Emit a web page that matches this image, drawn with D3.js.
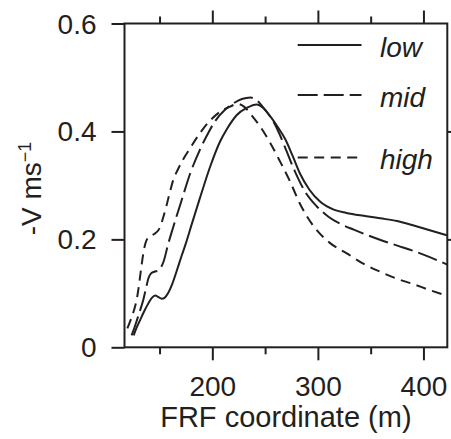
<!DOCTYPE html>
<html>
<head><meta charset="utf-8">
<title>Velocity profiles</title>
<style>
body { margin:0; background:#fff; }
svg text { font-family: "Liberation Sans", Arial, sans-serif; fill:#231f20; }
.axis path.domain { display:none; }
.axis line { stroke:#231f20; stroke-width:2; }
</style>
</head>
<body>
<svg width="451" height="439"></svg>
<script src="https://d3js.org/d3.v7.min.js"></script>
<script>
// [FRF coordinate (m), -V (m/s)]
var lowData = [[125.5,0.022],[128,0.035],[131.5,0.05],[135,0.065],[139,0.08],[142.5,0.091],[146,0.096],
  [149,0.093],[152,0.09],[155,0.092],[158,0.1],[162,0.117],[166,0.14],[171,0.17],[175,0.193],[180,0.225],
  [188,0.275],[198,0.335],[207,0.38],[214,0.405],[223,0.43],[233,0.444],[242,0.45],[248,0.444],[256,0.425],
  [262,0.408],[269,0.386],[276,0.355],[283,0.322],[292,0.292],[302,0.27],[315,0.255],[327,0.249],[346,0.243],
  [359,0.239],[375,0.234],[390,0.226],[406,0.217],[423,0.207]];
var midData = [[123.5,0.022],[126,0.035],[128.5,0.05],[131.5,0.068],[134.5,0.087],[137,0.108],[139.5,0.128],
  [142,0.137],[145,0.14],[148.5,0.142],[151,0.147],[154,0.16],[158,0.19],[163,0.223],[171,0.273],[179,0.322],
  [188,0.365],[195,0.393],[203,0.42],[212,0.44],[220,0.452],[228,0.46],[236,0.463],[243,0.456],[250,0.44],
  [257,0.421],[263,0.398],[269,0.37],[278,0.327],[288,0.288],[299,0.261],[310,0.242],[322,0.228],[334,0.218],
  [348,0.207],[362,0.197],[376,0.188],[390,0.179],[406,0.167],[423,0.153]];
var highData = [[119.5,0.035],[121.5,0.045],[123.6,0.056],[126,0.07],[128.3,0.088],[130,0.108],[131.5,0.13],
  [133,0.152],[134.6,0.174],[136.5,0.192],[139,0.203],[142,0.207],[145,0.21],[148.5,0.216],[151,0.225],
  [153.5,0.241],[156.5,0.262],[160,0.289],[163,0.31],[167.5,0.33],[172,0.347],[179,0.369],[188,0.396],
  [197.8,0.42],[207,0.436],[216.8,0.446],[224,0.451],[230,0.446],[238,0.428],[245,0.41],[254.5,0.38],
  [264,0.345],[273.7,0.307],[283,0.266],[295.7,0.225],[311.6,0.193],[327.4,0.174],[343,0.155],[359,0.14],
  [375,0.127],[390.5,0.117],[406,0.106],[423,0.095]];

var seriesNames = ["low", "mid", "high"];
var xMajor = [200, 300, 400],
    xMinor = [150, 250, 350],
    yTicks = [0, 0.2, 0.4, 0.6];

var svg = d3.select("svg");
var pl = 124.5, pr = 447.3, pt = 23.5, pb = 347.3;

var x = d3.scaleLinear().domain([116.8, 422.6]).range([pl, pr]);
var y = d3.scaleLinear().domain([0, 0.6]).range([pb, pt]);

var ink = "#231f20";

// frame
svg.append("rect")
  .attr("x", pl).attr("y", pt)
  .attr("width", pr - pl).attr("height", pb - pt)
  .attr("fill", "none").attr("stroke", ink).attr("stroke-width", 2);

// bottom axis
var gb = svg.append("g").attr("class", "axis").attr("transform", "translate(0," + pb + ")");
gb.call(d3.axisBottom(x).tickValues(xMajor).tickSize(13).tickSizeOuter(0).tickPadding(16).tickFormat(d3.format("d")));
gb.selectAll("text").attr("font-size", 28).attr("fill", ink);
svg.append("g").attr("class", "axis").attr("transform", "translate(0," + pb + ")")
  .call(d3.axisBottom(x).tickValues(xMinor).tickSize(7).tickSizeOuter(0).tickFormat(""));

// top axis
svg.append("g").attr("class", "axis").attr("transform", "translate(0," + pt + ")")
  .call(d3.axisTop(x).tickValues(xMajor).tickSize(13).tickSizeOuter(0).tickFormat(""));
svg.append("g").attr("class", "axis").attr("transform", "translate(0," + pt + ")")
  .call(d3.axisTop(x).tickValues(xMinor).tickSize(7).tickSizeOuter(0).tickFormat(""));

// left axis
var gl = svg.append("g").attr("class", "axis").attr("transform", "translate(" + pl + ",0)");
gl.call(d3.axisLeft(y).tickValues(yTicks).tickSize(13).tickSizeOuter(0).tickPadding(15)
  .tickFormat(function(d) { return d === 0 ? "0" : d3.format(".1f")(d); }));
gl.selectAll("text").attr("font-size", 28).attr("fill", ink).attr("dy", "0.34em");

// right axis
svg.append("g").attr("class", "axis").attr("transform", "translate(" + pr + ",0)")
  .call(d3.axisRight(y).tickValues([0.2, 0.4]).tickSize(13).tickSizeOuter(0).tickFormat(""));

// curves
var line = d3.line()
  .x(function(d) { return x(d[0]); })
  .y(function(d) { return y(d[1]); })
  .curve(d3.curveMonotoneX);

var series = [
  { name: "low", data: lowData, dash: null },
  { name: "mid", data: midData, dash: "20,6" },
  { name: "high", data: highData, dash: "10,6.5" }
];

svg.selectAll("path.curve")
  .data(series)
  .enter().append("path")
    .attr("class", "curve")
    .attr("d", function(d) { return line(d.data); })
    .attr("fill", "none")
    .attr("stroke", ink)
    .attr("stroke-width", 2)
    .attr("stroke-dasharray", function(d) { return d.dash; });

// legend
var legendY = [45, 95, 157.5];
var lg = svg.selectAll("g.legend")
  .data(series)
  .enter().append("g")
    .attr("class", "legend")
    .attr("transform", function(d, i) { return "translate(0," + legendY[i] + ")"; });
lg.append("line")
  .attr("x1", 297.7).attr("x2", 361.5)
  .attr("stroke", ink).attr("stroke-width", 2)
  .attr("stroke-dasharray", function(d) { return d.dash; });
lg.append("text")
  .attr("x", 380).attr("y", 11.5)
  .attr("font-size", 28).attr("font-style", "italic")
  .text(function(d, i) { return seriesNames[i]; });

// axis titles
svg.append("text")
  .attr("x", (pl + pr) / 2).attr("y", 427)
  .attr("text-anchor", "middle").attr("font-size", 29)
  .text("FRF coordinate (m)");

var yl = svg.append("text")
  .attr("transform", "translate(41,188.5) rotate(-90)")
  .attr("text-anchor", "middle").attr("font-size", 28);
yl.append("tspan").text("-V ms");
yl.append("tspan").attr("dy", -10).attr("font-size", 18).text("\u22121");
</script>
</body>
</html>
